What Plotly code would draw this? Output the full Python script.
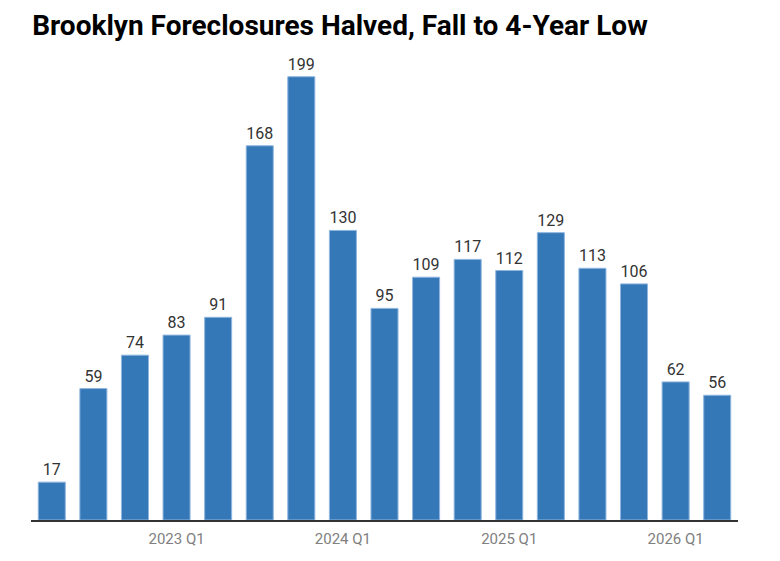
import plotly.graph_objects as go

# Quarterly foreclosure counts, Brooklyn
quarters = ["2022 Q2", "2022 Q3", "2022 Q4",
            "2023 Q1", "2023 Q2", "2023 Q3", "2023 Q4",
            "2024 Q1", "2024 Q2", "2024 Q3", "2024 Q4",
            "2025 Q1", "2025 Q2", "2025 Q3", "2025 Q4",
            "2026 Q1", "2026 Q2"]
foreclosures = [17, 59, 74, 83, 91, 168, 199, 130, 95, 109, 117, 112, 129, 113, 106, 62, 56]
tick_labels = ["2023 Q1", "2024 Q1", "2025 Q1", "2026 Q1"]

fig = go.Figure()
fig.add_trace(go.Bar(
    x=quarters,
    y=foreclosures,
    marker=dict(color="#3578b8", line=dict(color="#8fb6de", width=1)),
    text=foreclosures,
    textposition="outside",
    cliponaxis=False,
    textfont=dict(family="Roboto", size=16, color="#333333"),
))

fig.update_layout(
    width=780,
    height=561,
    margin=dict(l=23, r=50, t=42, b=49),
    plot_bgcolor="white",
    paper_bgcolor="white",
    bargap=0.35,
    showlegend=False,
    title=dict(
        text="<b>Brooklyn Foreclosures Halved, Fall to 4-Year Low</b>",
        x=0.031, xanchor="left", y=0.97, yanchor="middle",
        font=dict(family="Roboto", size=28, color="#000000"),
    ),
    xaxis=dict(
        type="category",
        tickmode="array",
        tickvals=tick_labels,
        ticktext=tick_labels,
        showgrid=False,
        showline=True,
        linecolor="#333333",
        linewidth=2,
        ticks="",
        ticklabelstandoff=4,
        tickfont=dict(family="Roboto", size=15, color="#808080"),
    ),
    yaxis=dict(
        range=[0, 211],
        visible=False,
        showgrid=False,
    ),
)

fig.write_html("out.html")
